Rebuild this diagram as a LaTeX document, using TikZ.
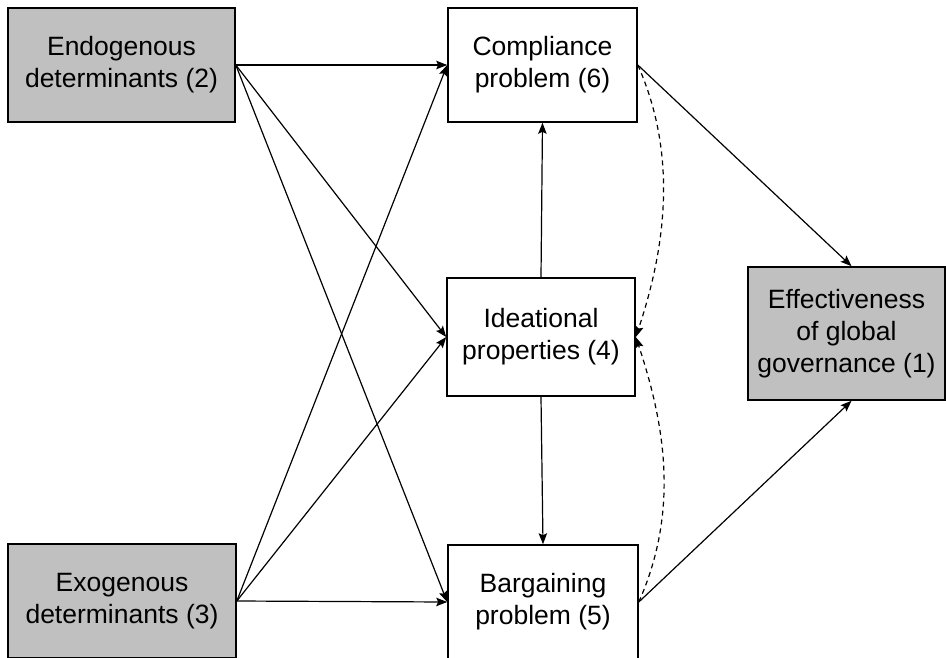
\documentclass[tikz,border=0pt]{standalone}
\usepackage{fontspec}
\setmainfont{Liberation Sans}
\usetikzlibrary{arrows.meta}
\definecolor{boxgray}{HTML}{C0C0C0}
\begin{document}
\begin{tikzpicture}[x=1pt,y=-1pt,
  box/.style={draw=black,line width=1.6pt,align=center,inner sep=0pt,
    font=\fontsize{26.5}{32}\selectfont},
  graybox/.style={box,fill=boxgray},
  whitebox/.style={box,fill=white},
  arr/.style={line width=1.2pt,-{Stealth[length=11pt,width=8.5pt,inset=2pt]}},
  darr/.style={arr,dash pattern=on 5pt off 4pt}]
\useasboundingbox (0,0) rectangle (946,657);
\node[graybox,minimum width=227,minimum height=114] (endo) at (121.5,65) {Endogenous\\determinants (2)};
\node[graybox,minimum width=228,minimum height=114] (exo) at (122,601) {Exogenous\\determinants (3)};
\node[whitebox,minimum width=189,minimum height=114] (comp) at (542.5,65) {Compliance\\problem (6)};
\node[whitebox,minimum width=188,minimum height=118] (idea) at (541,337) {Ideational\\properties (4)};
\node[whitebox,minimum width=190,minimum height=114] (barg) at (543,602) {Bargaining\\problem (5)};
\node[graybox,minimum width=197,minimum height=133] (eff) at (846.5,333.5) {Effectiveness\\of global\\governance (1)};
\draw[arr] (endo.east) -- (comp.west);
\draw[arr] (endo.east) -- (idea.west);
\draw[arr] (endo.east) -- (barg.west);
\draw[arr] (exo.east) -- (comp.west);
\draw[arr] (exo.east) -- (idea.west);
\draw[arr] (exo.east) -- (barg.west);
\draw[arr] (idea.north) -- (comp.south);
\draw[arr] (idea.south) -- (barg.north);
\draw[arr] (comp.east) -- ([xshift=5]eff.north);
\draw[arr] (barg.east) -- ([xshift=5]eff.south);
\draw[darr] (comp.east) .. controls +(40,90) and +(30,-90) .. (idea.east);
\draw[darr] (barg.east) .. controls +(40,-90) and +(30,90) .. (idea.east);
\end{tikzpicture}
\end{document}
